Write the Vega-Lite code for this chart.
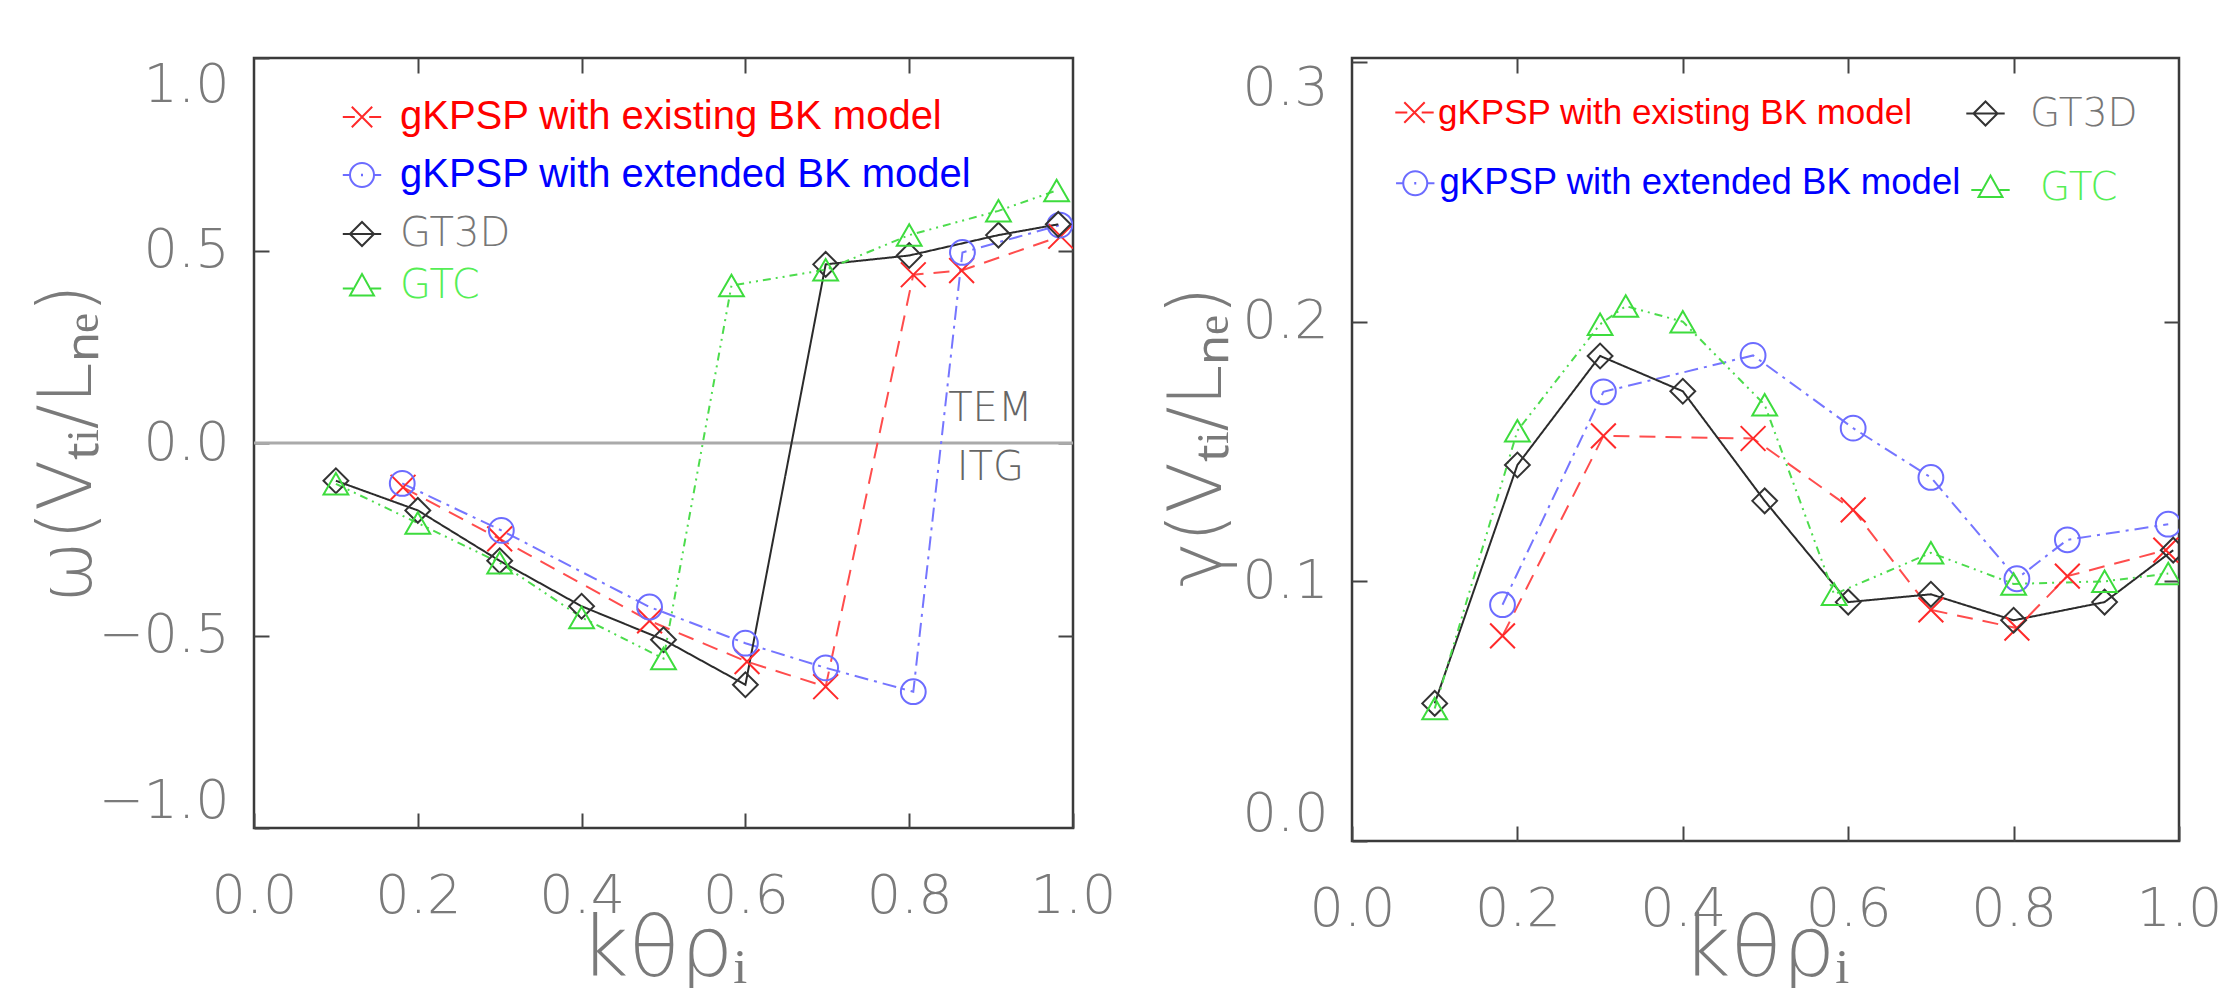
{
  "$schema": "https://vega.github.io/schema/vega-lite/v6.json",
  "background": "white",
  "padding": {"left": 28, "top": 55, "right": 10, "bottom": 0},
  "bounds": "flush",
  "spacing": 279,
  "config": {
    "view": {"stroke": "#3a3a3a", "strokeWidth": 2.5},
    "axis": {
      "grid": false, "domain": false, "tickSize": -15, "tickColor": "#444444", "tickWidth": 2,
      "labelFont": "DejaVu Sans", "labelFontWeight": 300, "labelFontSize": 54, "labelColor": "#7a7a7a",
      "titleFont": "DejaVu Sans", "titleFontWeight": 300, "titleFontSize": 75, "titleColor": "#7a7a7a"
    },
    "legend": {"orient": "none", "title": null, "padding": 0, "symbolSize": 576, "symbolStrokeWidth": 2, "labelLimit": 2000}
  },
  "hconcat": [
    {
      "width": 819,
      "height": 770,
      "data": {"values": [
        {"series": "gKPSP with existing BK model", "k": 0.182, "v": -0.115},
        {"series": "gKPSP with existing BK model", "k": 0.300, "v": -0.249},
        {"series": "gKPSP with existing BK model", "k": 0.483, "v": -0.462},
        {"series": "gKPSP with existing BK model", "k": 0.602, "v": -0.568},
        {"series": "gKPSP with existing BK model", "k": 0.698, "v": -0.633},
        {"series": "gKPSP with existing BK model", "k": 0.805, "v": 0.437},
        {"series": "gKPSP with existing BK model", "k": 0.864, "v": 0.448},
        {"series": "gKPSP with existing BK model", "k": 0.985, "v": 0.537},
        {"series": "gKPSP with extended BK model", "k": 0.181, "v": -0.105},
        {"series": "gKPSP with extended BK model", "k": 0.302, "v": -0.227},
        {"series": "gKPSP with extended BK model", "k": 0.483, "v": -0.426},
        {"series": "gKPSP with extended BK model", "k": 0.600, "v": -0.520},
        {"series": "gKPSP with extended BK model", "k": 0.698, "v": -0.584},
        {"series": "gKPSP with extended BK model", "k": 0.805, "v": -0.646},
        {"series": "gKPSP with extended BK model", "k": 0.865, "v": 0.495},
        {"series": "gKPSP with extended BK model", "k": 0.984, "v": 0.566},
        {"series": "GT3D", "k": 0.1, "v": -0.098},
        {"series": "GT3D", "k": 0.2, "v": -0.175},
        {"series": "GT3D", "k": 0.3, "v": -0.306},
        {"series": "GT3D", "k": 0.4, "v": -0.424},
        {"series": "GT3D", "k": 0.5, "v": -0.511},
        {"series": "GT3D", "k": 0.6, "v": -0.628},
        {"series": "GT3D", "k": 0.698, "v": 0.464},
        {"series": "GT3D", "k": 0.8, "v": 0.487},
        {"series": "GT3D", "k": 0.909, "v": 0.540},
        {"series": "GT3D", "k": 0.982, "v": 0.568},
        {"series": "GTC", "k": 0.1, "v": -0.106},
        {"series": "GTC", "k": 0.2, "v": -0.208},
        {"series": "GTC", "k": 0.3, "v": -0.311},
        {"series": "GTC", "k": 0.4, "v": -0.453},
        {"series": "GTC", "k": 0.5, "v": -0.560},
        {"series": "GTC", "k": 0.583, "v": 0.409},
        {"series": "GTC", "k": 0.698, "v": 0.450},
        {"series": "GTC", "k": 0.8, "v": 0.540},
        {"series": "GTC", "k": 0.909, "v": 0.603},
        {"series": "GTC", "k": 0.980, "v": 0.656}
      ]},
      "resolve": {
        "scale": {"color": "independent", "shape": "independent", "strokeDash": "independent"},
        "axis": {"x": "independent", "y": "independent"}
      },
      "layer": [
        {
          "data": {"values": [{"zero": 0}]},
          "mark": {"type": "rule", "color": "#aaaaaa", "strokeWidth": 3},
          "encoding": {"y": {"field": "zero", "type": "quantitative", "axis": null}}
        },
        {
          "mark": {"type": "line", "strokeWidth": 2, "clip": true},
          "encoding": {
            "x": {"field": "k", "type": "quantitative", "scale": {"domain": [0, 1], "nice": false},
              "axis": {"orient": "bottom", "values": [0, 0.2, 0.4, 0.6, 0.8, 1], "format": ".1f", "labelFlush": false,
                "labelPadding": 56, "title": "kθρᵢ", "titleFontSize": 84, "titleX": 409, "titleY": 81, "titleBaseline": "top", "titleAlign": "center"}},
            "y": {"field": "v", "type": "quantitative", "scale": {"domain": [-1, 1], "nice": false},
              "axis": {"orient": "left", "values": [-1, -0.5, 0, 0.5, 1], "format": ".1f", "labelFlush": true,
                "labelPadding": 40, "title": "ω(Vₜᵢ/Lₙₑ)", "titleX": -148, "titleY": 385, "titleAngle": -90,
                "titleBaseline": "bottom", "titleAlign": "center"}},
            "color": {"field": "series", "type": "nominal", "legend": null,
              "scale": {"domain": ["gKPSP with existing BK model", "gKPSP with extended BK model", "GT3D", "GTC"],
                "range": ["#ff4d4d", "#7575ff", "#2b2b2b", "#4cdc4c"]}},
            "strokeDash": {"field": "series", "type": "nominal", "legend": null,
              "scale": {"domain": ["gKPSP with existing BK model", "gKPSP with extended BK model", "GT3D", "GTC"],
                "range": [[16, 10], [14, 6, 3, 6], [1, 0], [8, 5, 2, 5, 2, 5]]}}
          }
        },
        {
          "mark": {"type": "point", "filled": false, "strokeWidth": 2, "size": 615, "opacity": 1, "clip": true},
          "encoding": {
            "x": {"field": "k", "type": "quantitative",
              "axis": {"orient": "top", "labels": false, "title": null, "values": [0.2, 0.4, 0.6, 0.8]}},
            "y": {"field": "v", "type": "quantitative",
              "axis": {"orient": "right", "labels": false, "title": null, "values": [-0.5, 0, 0.5]}},
            "color": {"field": "series", "type": "nominal", "legend": null,
              "scale": {"domain": ["gKPSP with existing BK model", "gKPSP with extended BK model", "GT3D", "GTC"],
                "range": ["#ff2a2a", "#6c6cff", "#333333", "#3ddc3d"]}},
            "shape": {"field": "series", "type": "nominal", "legend": null,
              "scale": {"domain": ["gKPSP with existing BK model", "gKPSP with extended BK model", "GT3D", "GTC"],
                "range": ["M-1,-1L1,1M-1,1L1,-1", "circle", "diamond", "triangle-up"]}}
          }
        },
        {
          "data": {"values": [{"label": "TEM", "k": 0.899, "v": 0.088}, {"label": "ITG", "k": 0.899, "v": -0.066}]},
          "mark": {"type": "text", "font": "DejaVu Sans", "fontSize": 40, "fontWeight": 300, "color": "#666666"},
          "encoding": {
            "x": {"field": "k", "type": "quantitative", "axis": null},
            "y": {"field": "v", "type": "quantitative", "axis": null},
            "text": {"field": "label"}
          }
        },
        {
          "transform": [{"filter": "false"}],
          "mark": {"type": "point", "filled": false, "strokeWidth": 2, "opacity": 1, "color": "#ff2a2a"},
          "encoding": {
            "shape": {"field": "series", "type": "nominal",
              "scale": {"domain": ["gKPSP with existing BK model"],
                "range": ["M-0.85,-0.85L0.85,0.85M-0.85,0.85L0.85,-0.85M-1.6,0L-0.6,0M0.6,0L1.6,0"]},
              "legend": {"legendX": 88, "legendY": 39, "labelOffset": 18, "labelFont": "Liberation Sans", "labelFontSize": 40, "labelColor": "#ff0000"}}
          }
        },
        {
          "transform": [{"filter": "false"}],
          "mark": {"type": "point", "filled": false, "strokeWidth": 2, "opacity": 1, "color": "#6c6cff"},
          "encoding": {
            "shape": {"field": "series", "type": "nominal",
              "scale": {"domain": ["gKPSP with extended BK model"],
                "range": ["M-1,0A1,1,0,1,1,1,0A1,1,0,1,1,-1,0ZM-1.6,0L-1,0M1,0L1.6,0M0,-0.1L0,0.1"]},
              "legend": {"legendX": 88, "legendY": 97, "labelOffset": 18, "labelFont": "Liberation Sans", "labelFontSize": 40, "labelColor": "#0000ff"}}
          }
        },
        {
          "transform": [{"filter": "false"}],
          "mark": {"type": "point", "filled": false, "strokeWidth": 2, "opacity": 1, "color": "#333333"},
          "encoding": {
            "shape": {"field": "series", "type": "nominal",
              "scale": {"domain": ["GT3D"], "range": ["M-1,0L0,-1L1,0L0,1ZM-1.6,0L1.6,0"]},
              "legend": {"legendX": 88, "legendY": 156, "labelOffset": 18, "labelFont": "DejaVu Sans", "labelFontWeight": 300, "labelFontSize": 40, "labelColor": "#777777"}}
          }
        },
        {
          "transform": [{"filter": "false"}],
          "mark": {"type": "point", "filled": false, "strokeWidth": 2, "opacity": 1, "color": "#3ddc3d"},
          "encoding": {
            "shape": {"field": "series", "type": "nominal",
              "scale": {"domain": ["GTC"], "range": ["M-1,0.8L0,-1L1,0.8ZM-1.6,0.2L-0.75,0.2M0.75,0.2L1.6,0.2"]},
              "legend": {"legendX": 88, "legendY": 208, "labelOffset": 18, "labelFont": "DejaVu Sans", "labelFontWeight": 300, "labelFontSize": 40, "labelColor": "#55ee55"}}
          }
        }
      ]
    },
    {
      "width": 827,
      "height": 783,
      "data": {"values": [
        {"series": "gKPSP with existing BK model", "k": 0.182, "v": 0.079},
        {"series": "gKPSP with existing BK model", "k": 0.304, "v": 0.156},
        {"series": "gKPSP with existing BK model", "k": 0.485, "v": 0.155},
        {"series": "gKPSP with existing BK model", "k": 0.606, "v": 0.1275},
        {"series": "gKPSP with existing BK model", "k": 0.700, "v": 0.089},
        {"series": "gKPSP with existing BK model", "k": 0.804, "v": 0.082},
        {"series": "gKPSP with existing BK model", "k": 0.865, "v": 0.102},
        {"series": "gKPSP with existing BK model", "k": 0.984, "v": 0.112},
        {"series": "gKPSP with extended BK model", "k": 0.182, "v": 0.091},
        {"series": "gKPSP with extended BK model", "k": 0.304, "v": 0.173},
        {"series": "gKPSP with extended BK model", "k": 0.485, "v": 0.187},
        {"series": "gKPSP with extended BK model", "k": 0.606, "v": 0.159},
        {"series": "gKPSP with extended BK model", "k": 0.700, "v": 0.140},
        {"series": "gKPSP with extended BK model", "k": 0.804, "v": 0.101},
        {"series": "gKPSP with extended BK model", "k": 0.865, "v": 0.116},
        {"series": "gKPSP with extended BK model", "k": 0.987, "v": 0.122},
        {"series": "GT3D", "k": 0.1, "v": 0.053},
        {"series": "GT3D", "k": 0.2, "v": 0.1448},
        {"series": "GT3D", "k": 0.3, "v": 0.1868},
        {"series": "GT3D", "k": 0.4, "v": 0.1732},
        {"series": "GT3D", "k": 0.499, "v": 0.131},
        {"series": "GT3D", "k": 0.6, "v": 0.092},
        {"series": "GT3D", "k": 0.7, "v": 0.095},
        {"series": "GT3D", "k": 0.8, "v": 0.085},
        {"series": "GT3D", "k": 0.91, "v": 0.092},
        {"series": "GT3D", "k": 0.993, "v": 0.112},
        {"series": "GTC", "k": 0.1, "v": 0.051},
        {"series": "GTC", "k": 0.2, "v": 0.158},
        {"series": "GTC", "k": 0.3, "v": 0.199},
        {"series": "GTC", "k": 0.331, "v": 0.206},
        {"series": "GTC", "k": 0.4, "v": 0.200},
        {"series": "GTC", "k": 0.499, "v": 0.168},
        {"series": "GTC", "k": 0.583, "v": 0.095},
        {"series": "GTC", "k": 0.7, "v": 0.111},
        {"series": "GTC", "k": 0.8, "v": 0.099},
        {"series": "GTC", "k": 0.91, "v": 0.100},
        {"series": "GTC", "k": 0.987, "v": 0.103}
      ]},
      "resolve": {
        "scale": {"color": "independent", "shape": "independent", "strokeDash": "independent"},
        "axis": {"x": "independent", "y": "independent"}
      },
      "layer": [
        {
          "mark": {"type": "line", "strokeWidth": 2, "clip": true},
          "encoding": {
            "x": {"field": "k", "type": "quantitative", "scale": {"domain": [0, 1], "nice": false},
              "axis": {"orient": "bottom", "values": [0, 0.2, 0.4, 0.6, 0.8, 1], "format": ".1f", "labelFlush": false,
                "labelPadding": 56, "title": "kθρᵢ", "titleFontSize": 84, "titleX": 413, "titleY": 68, "titleBaseline": "top", "titleAlign": "center"}},
            "y": {"field": "v", "type": "quantitative", "scale": {"domain": [0, 0.30154], "nice": false},
              "axis": {"orient": "left", "values": [0, 0.1, 0.2, 0.3], "format": ".1f", "labelFlush": 6,
                "labelPadding": 39, "title": "γ(Vₜᵢ/Lₙₑ)", "titleX": -116, "titleY": 378, "titleAngle": -90,
                "titleBaseline": "bottom", "titleAlign": "center"}},
            "color": {"field": "series", "type": "nominal", "legend": null,
              "scale": {"domain": ["gKPSP with existing BK model", "gKPSP with extended BK model", "GT3D", "GTC"],
                "range": ["#ff4d4d", "#7575ff", "#2b2b2b", "#4cdc4c"]}},
            "strokeDash": {"field": "series", "type": "nominal", "legend": null,
              "scale": {"domain": ["gKPSP with existing BK model", "gKPSP with extended BK model", "GT3D", "GTC"],
                "range": [[16, 10], [14, 6, 3, 6], [1, 0], [8, 5, 2, 5, 2, 5]]}}
          }
        },
        {
          "mark": {"type": "point", "filled": false, "strokeWidth": 2, "size": 615, "opacity": 1, "clip": true},
          "encoding": {
            "x": {"field": "k", "type": "quantitative",
              "axis": {"orient": "top", "labels": false, "title": null, "values": [0.2, 0.4, 0.6, 0.8]}},
            "y": {"field": "v", "type": "quantitative",
              "axis": {"orient": "right", "labels": false, "title": null, "values": [0.1, 0.2]}},
            "color": {"field": "series", "type": "nominal", "legend": null,
              "scale": {"domain": ["gKPSP with existing BK model", "gKPSP with extended BK model", "GT3D", "GTC"],
                "range": ["#ff2a2a", "#6c6cff", "#333333", "#3ddc3d"]}},
            "shape": {"field": "series", "type": "nominal", "legend": null,
              "scale": {"domain": ["gKPSP with existing BK model", "gKPSP with extended BK model", "GT3D", "GTC"],
                "range": ["M-1,-1L1,1M-1,1L1,-1", "circle", "diamond", "triangle-up"]}}
          }
        },
        {
          "transform": [{"filter": "false"}],
          "mark": {"type": "point", "filled": false, "strokeWidth": 2, "opacity": 1, "color": "#ff2a2a"},
          "encoding": {
            "shape": {"field": "series", "type": "nominal",
              "scale": {"domain": ["gKPSP with existing BK model"],
                "range": ["M-0.85,-0.85L0.85,0.85M-0.85,0.85L0.85,-0.85M-1.6,0L-0.6,0M0.6,0L1.6,0"]},
              "legend": {"legendX": 45, "legendY": 37, "labelOffset": 6, "labelFont": "Liberation Sans", "labelFontSize": 35, "labelColor": "#ff0000"}}
          }
        },
        {
          "transform": [{"filter": "false"}],
          "mark": {"type": "point", "filled": false, "strokeWidth": 2, "opacity": 1, "color": "#6c6cff"},
          "encoding": {
            "shape": {"field": "series", "type": "nominal",
              "scale": {"domain": ["gKPSP with extended BK model"],
                "range": ["M-1,0A1,1,0,1,1,1,0A1,1,0,1,1,-1,0ZM-1.6,0L-1,0M1,0L1.6,0M0,-0.1L0,0.1"]},
              "legend": {"legendX": 45, "legendY": 107, "labelOffset": 6, "labelFont": "Liberation Sans", "labelFontSize": 36.5, "labelColor": "#0000ff"}}
          }
        },
        {
          "transform": [{"filter": "false"}],
          "mark": {"type": "point", "filled": false, "strokeWidth": 2, "opacity": 1, "color": "#333333"},
          "encoding": {
            "shape": {"field": "series", "type": "nominal",
              "scale": {"domain": ["GT3D"], "range": ["M-1,0L0,-1L1,0L0,1ZM-1.6,0L1.6,0"]},
              "legend": {"legendX": 614, "legendY": 36, "labelOffset": 25, "labelFont": "DejaVu Sans", "labelFontWeight": 300, "labelFontSize": 39, "labelColor": "#777777"}}
          }
        },
        {
          "transform": [{"filter": "false"}],
          "mark": {"type": "point", "filled": false, "strokeWidth": 2, "opacity": 1, "color": "#3ddc3d"},
          "encoding": {
            "shape": {"field": "series", "type": "nominal",
              "scale": {"domain": ["GTC"], "range": ["M-1,0.8L0,-1L1,0.8ZM-1.6,0.2L-0.75,0.2M0.75,0.2L1.6,0.2"]},
              "legend": {"legendX": 619, "legendY": 110, "labelOffset": 30, "labelFont": "DejaVu Sans", "labelFontWeight": 300, "labelFontSize": 39, "labelColor": "#55ee55"}}
          }
        }
      ]
    }
  ]
}
